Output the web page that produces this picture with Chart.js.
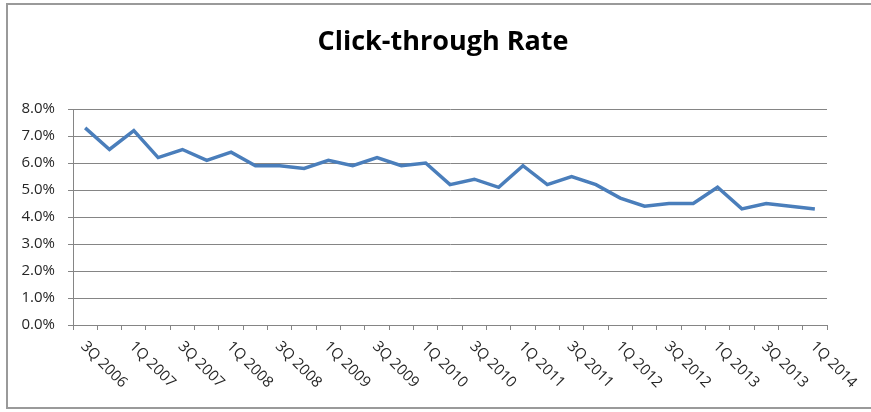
<!DOCTYPE html>
<html lang="en">
<head>
<meta charset="UTF-8">
<title>Click-through Rate</title>
<script src="https://cdn.jsdelivr.net/npm/chart.js"></script>
<style>
  html, body { margin: 0; padding: 0; background: #fff; }
  #wrap { width: 871px; height: 412px; }
</style>
</head>
<body>
<div id="wrap"><canvas id="ctrChart" width="871" height="412"></canvas></div>
<script>
// quarterly categories, 3Q 2006 .. 1Q 2014
const quarters = [
  '3Q 2006', '4Q 2006',
  '1Q 2007', '2Q 2007', '3Q 2007', '4Q 2007',
  '1Q 2008', '2Q 2008', '3Q 2008', '4Q 2008',
  '1Q 2009', '2Q 2009', '3Q 2009', '4Q 2009',
  '1Q 2010', '2Q 2010', '3Q 2010', '4Q 2010',
  '1Q 2011', '2Q 2011', '3Q 2011', '4Q 2011',
  '1Q 2012', '2Q 2012', '3Q 2012', '4Q 2012',
  '1Q 2013', '2Q 2013', '3Q 2013', '4Q 2013',
  '1Q 2014'
];

// click-through rate, in percent
const ctrValues = [
  7.3, 6.5,
  7.2, 6.2, 6.5, 6.1,
  6.4, 5.9, 5.9, 5.8,
  6.1, 5.9, 6.2, 5.9,
  6.0, 5.2, 5.4, 5.1,
  5.9, 5.2, 5.5, 5.2,
  4.7, 4.4, 4.5, 4.5,
  5.1, 4.3, 4.5, 4.4,
  4.3
];

const yMin = 0;
const yMax = 8;
const yStep = 1;

const titleText = 'Click-through Rate';
const axisGrey = '#858585';
const textColor = '#262626';

// white background, frame and title of the chart box
const frame = {
  id: 'frame',
  beforeDraw(chart) {
    const ctx = chart.ctx;
    ctx.save();
    ctx.fillStyle = '#fff';
    ctx.fillRect(0, 0, chart.width, chart.height);
    ctx.strokeStyle = '#9a9a9a';
    ctx.lineWidth = 2;
    ctx.beginPath();
    ctx.moveTo(chart.width + 5, 4);
    ctx.lineTo(7, 4);
    ctx.lineTo(7, 408);
    ctx.lineTo(chart.width + 5, 408);
    ctx.stroke();

    ctx.fillStyle = '#000';
    ctx.font = 'bold 27px "Open Sans"';
    ctx.textAlign = 'center';
    ctx.textBaseline = 'middle';
    ctx.fillText(titleText, 443, 42);
    ctx.restore();
  }
};

// every other quarter, slanted down to the right
const slantedLabels = {
  id: 'slantedLabels',
  afterDraw(chart) {
    const x = chart.scales.x;
    const ctx = chart.ctx;
    ctx.save();
    ctx.font = '15px "Open Sans"';
    ctx.fillStyle = textColor;
    ctx.textAlign = 'left';
    ctx.textBaseline = 'middle';
    quarters.forEach((q, i) => {
      if (i % 2) return;
      ctx.save();
      ctx.translate(x.getPixelForValue(i) - 2, x.top + 19);
      ctx.rotate(Math.PI / 4);
      ctx.fillText(q, 0, 0);
      ctx.restore();
    });
    ctx.restore();
  }
};

new Chart(document.getElementById('ctrChart'), {
  type: 'line',
  data: {
    labels: quarters,
    datasets: [{
      label: titleText,
      data: ctrValues,
      borderColor: '#4a7ebb',
      borderWidth: 3.5,
      pointRadius: 0,
      tension: 0,
      fill: false
    }]
  },
  options: {
    responsive: false,
    animation: false,
    devicePixelRatio: 1,
    layout: { padding: { left: 0, right: 44, top: 109, bottom: 0 } },
    plugins: {
      legend: { display: false },
      tooltip: { enabled: false },
      title: { display: false }
    },
    scales: {
      x: {
        offset: true,
        grid: {
          offset: true,
          drawOnChartArea: false,
          drawTicks: true,
          tickLength: 5,
          color: axisGrey
        },
        border: { display: true, color: axisGrey },
        ticks: { display: false },
        afterFit(scale) { scale.height = 87; }
      },
      y: {
        min: yMin,
        max: yMax,
        grid: { color: axisGrey, tickLength: 5 },
        border: { display: true, color: axisGrey },
        ticks: {
          stepSize: yStep,
          padding: 13,
          color: textColor,
          font: { family: '"Open Sans"', size: 15 },
          callback: v => v.toFixed(1) + '%'
        },
        afterFit(scale) { scale.width = 73; }
      }
    }
  },
  plugins: [frame, slantedLabels]
});
</script>
</body>
</html>
